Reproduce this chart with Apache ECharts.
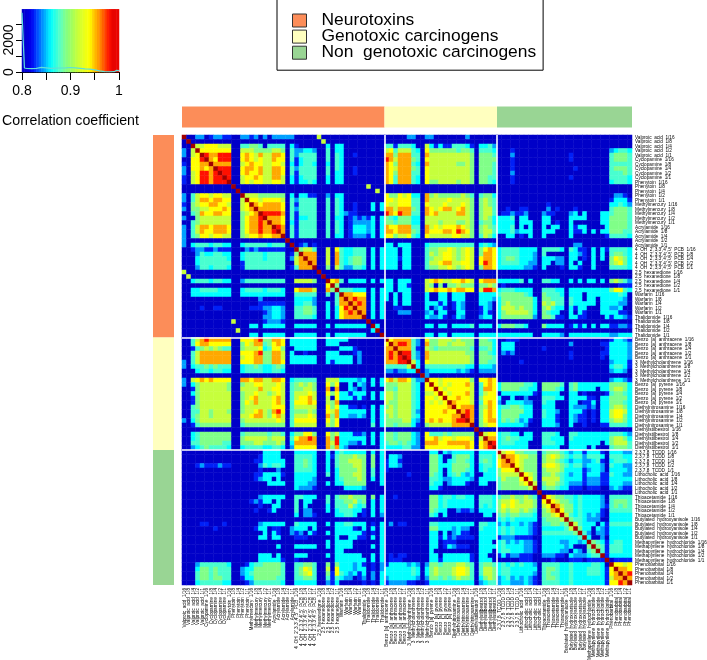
<!DOCTYPE html>
<html><head><meta charset="utf-8">
<style>html,body{margin:0;padding:0;background:#fff}#c{width:707px;height:660px}</style>
<script src="https://cdn.jsdelivr.net/npm/echarts@6/dist/echarts.min.js"></script>
</head><body><div id="c"></div>
<script>
const neuroChemicals = ["Valproic  acid","Cyclopamine","Phenytoin","Methylmercury","Acrylamide","4  OH  2',3,3',4',5'  PCB","2,5  hexanedione","Warfarin","Thalidomide"];
const genoChemicals = ["Benzo  [a]  anthracene","3  Methylcholanthrene","Benzo  [a]  pyrene","Diethylnitrosamine","Diethylstilbestrol"];
const nonChemicals = ["2,3,7,8  TCDD","Lithocholic  acid","Thioacetamide","Butylated  hydroxyanisole","Methapyrilene  hydrochloride","Phenobarbital"];
const doses = ["1/16","1/8","1/4","1/2","1/1"];
const groupNames = ["Neurotoxins","Genotoxic carcinogens","Non  genotoxic carcinogens"];
const groupSizes = [45,25,30];
const groupColors = ["#FC8D59","#FFFFBF","#99D594"];
const levelValues = {"0":0.79,"1":0.825,"2":0.845,"3":0.86,"4":0.875,"5":0.89,"6":0.915,"7":0.94,"8":0.955,"9":0.98,"D":1};
// each row: estimated colour level, from the diagonal cell to the last column (grouped by decade of columns)
const neuroRows = [
"D002201221 1002212020 2222200000 6000000000 0000000000 2200220000 0002",
"D00000000 0000000000 0000000000 0600",
"D6677766 6004455404 4440310000 0030330000 0000044144 4300631311 4443103342",
"D777777 7006665555 6650422332 0040330000 0000067466 6430755555 5455404443 0001000000 0000000000 0000023443",
"D98899 9007876866 8870424444 0040430010 0000088588 8440866666 6666505554 0002000000 0000001000 0000045554",
"D8799 9007876766 8770413444 0040430000 0000098688 8540766666 6666505555 0001000000 0000001000 0000045554",
"D888 8006787766 7760313443 0030430000 0000087588 8430866666 6556505554 0001000000 0000000000 0000044444",
"D99 9007887866 8870424444 0040430010 0000087688 8540766666 6666505554 0001000000 0000000100 0000045554",
"D9 9007877866 8870414444 0040330010 0000087588 8440766666 6666505554 0002000000 0000000000 0000044454",
"D 9006778766 8860313444 0030330000 0000087488 8430766666 6666505544 0001000000 0000001000 0000044443",
"D006767766 7760313343 0030330000 0000087488 8430755666 6566505543 0001000000 0000000000 0000034443",
"D00000000 0000000000 0000000000 0600000000",
"D0000000 0000000000 0000000000 0006000000",
"D666555 5550303311 0020330000 0000075576 7330856555 5565404553 0000000000 0000000000 0000002210",
"D77677 7760424444 0040430000 0000077677 7440866667 6666505654 0000000000 0000000000 0000013331",
"D8788 8870414444 0040430010 0030376677 7440766676 6676505654 0000000000 0100000000 0000033432",
"D888 8870424444 0040430010 0030388688 8540876788 6786505664 0010011000 0201000100 0000045554",
"D99 9980414444 0040432110 0000098798 8440878666 6886505664 0112112000 2110002303 0003345554",
"D8 8870413344 0040330121 2130354355 5330666666 6666505653 3334033000 3300003333 0003355554",
"D 8870314444 0040430122 2230355455 5330666566 6556504553 3333033300 3301003000 0003355554",
"D980414444 0040430133 3230387788 8440867677 7876505654 3334030300 3033003133 0000355554",
"D80414444 0040430133 3230388788 8540877788 7987505664 3334233300 3330003113 0303355544",
"D0414444 0040330122 2130377566 7430766666 7766504653 0033010300 3000003000 0000144443",
"D000000 0000000000 0000000000 0000000000",
"D01201 0000000000 0000033033 3000344444 4444403432 0000000000 0000000220 0000000000",
"D5664 0060743344 4030333303 3000455667 6567605787 3444433330 4444304311 0303144443",
"D888 0060843344 4030333303 3000465677 6567605887 3444433320 4000003321 0303045543",
"D88 0060843455 4030333313 3000456677 6567607887 3455433320 3332203301 0303057653",
"D8 0060843455 4030333303 3000466788 6677607987 3444433220 3302203030 0300056753",
"D 0050642244 3030333303 3000455667 6567605887 3333332210 3000103310 0300044443",
"D000000000 0000000000 0000000000",
"D00000000 0000000000 0000000000",
"D7840333 3030333033 3000678766 7787607888 3333340300 4433003030 3303056542",
"D500000 0000033033 1000650505 5655505565 0100000000 0000000000 0000000111",
"D44433 3030333033 3000678778 7887706998 3444333300 4443303333 3333357743",
"D8877 7030330303 3000300330 3330003333 4555554300 5444303330 3333333430",
"D898 8030330303 3000300330 3330003332 3555555530 5544404330 3303333320",
"D89 8030300303 3000333130 1320003320 3565555530 6564404333 3303333220",
"D8 8030300110 0000302310 1320001320 3666565530 5643303133 0003322300",
"D 8030300022 2000230330 0330001310 3566666530 5433003031 0003333110",
"D030300000 0000322310 1320002330 3555555520 5541103311 0000313321",
"D00000000 0000000000 0000000000",
"D3000000 0000330330 3333403330 3555443000 5333301313 0303311221",
"D000000 0000000000 0000000000",
"D00000 0000330330 3333303333 3333333300 3333203333 3333322333"
];
const genoRows = [
"D7888 8420755666 5655505543 0011100000 0000000000 0000013321",
"D899 8420855665 6665505553 0333000000 0000002000 0001133332",
"D88 8410654555 5555404453 0333000000 1000000000 0000133332",
"D9 9420866666 6665505543 0212000000 0000001000 0001133332",
"D 9420866666 6666505554 0000000000 0000001000 0001033332",
"D630766666 6666505544 0000010000 0000000000 0000023331",
"D30444444 4443303332 0000000000 0000000000 0000034431",
"D0233333 3232102222 0000000000 0000000000 0000023320",
"D200000 0000000000 0000000000",
"D77677 7777507787 0000000000 0000000000 0000023321",
"D7676 7778604787 3555554430 5555404533 3333355553",
"D767 7777604887 3555544330 5554304533 3303356653",
"D76 7778604677 0333333310 3333003301 0000145543",
"D7 7877605777 3003002000 4443303333 1103355553",
"D 8777604787 2033332200 4330003301 1303355543",
"D788805687 3445543300 3330003222 1203356653",
"D89805787 3555553300 4332003331 0103367763",
"D9805787 3555533300 4331003211 0103367753",
"D805788 3545423100 3331003211 0103356653",
"D05677 3333332000 3332003001 0001144443",
"D0000 0000000000 0000000000 0000000000",
"D677 3443303300 4443004433 3333344432",
"D88 3454433300 4433304333 3333356653",
"D9 3444333000 4443303333 3330356664",
"D 3333333000 3333003333 0300045554"
];
const nonRows = [
"D677554440 4555432331 3331033322",
"D88766550 5676543442 4443044433",
"D8765550 5665432332 2341034443",
"D765550 6776543442 3332043322",
"D65550 5666533331 2332033332",
"D7650 5565432331 3331143322",
"D750 6666433331 2221133333",
"D60 5665432221 2221133322",
"D0 4554331110 1110023211",
"D 0000000000 0000000000",
"D765544343 3332044444",
"D76554343 3332045554",
"D8655343 3332145454",
"D755343 3331044444",
"D64343 2321033333",
"D5443 2220033333",
"D643 3303144444",
"D53 3032133333",
"D4 2022133333",
"D 3002033333",
"D543134433",
"D54144433",
"D4144433",
"D133333",
"D01111",
"D7767",
"D887",
"D89",
"D8",
"D"
];
const keyBins = [0.8025,0.8075,0.8125,0.8175,0.8225,0.8275,0.8325,0.8375,0.8425,0.8475,0.8525,0.8575,0.8625,0.8675,0.8725,0.8775,0.8825,0.8875,0.8925,0.8975,0.9025,0.9075,0.9125,0.9175,0.9225,0.9275,0.9325,0.9375,0.9425,0.9475,0.9525,0.9575,0.9625,0.9675,0.9725,0.9775,0.9825,0.9875,0.9875,0.9875];
const histX = [0.8,0.804,0.805,0.81,0.82,0.83,0.84,0.85,0.86,0.87,0.88,0.89,0.9,0.91,0.92,0.93,0.94,0.95,0.96,0.97,0.98,0.99,0.995,1];
const histY = [3700,3700,250,220,210,230,290,260,230,240,250,260,280,260,230,200,180,130,70,20,10,20,100,90];
const xTicksShown = [0.8,0.9,1];
const yTicksShown = [0,2000];
const separators = [45,70];

const FONT = "'Liberation Sans',Helvetica,Arial,sans-serif";
const allChem = [...neuroChemicals,...genoChemicals,...nonChemicals];
const labels = [];
allChem.forEach(c=>doses.forEach(d=>labels.push(c+"  "+d)));
const allRows = [...neuroRows,...genoRows,...nonRows];
const cells = [];
allRows.forEach((s,i)=>{
  const c = s.replace(/ /g,"");
  for(let k=0;k+i<100;k++){
    const v = levelValues[c[k]||"0"];
    cells.push([i+k,i,v]);
    if(k) cells.push([i,i+k,v]);
  }
});
const hide = {show:false};
const chart = echarts.init(document.getElementById("c"),null,{renderer:"canvas"});
chart.setOption({
  animation:false,
  backgroundColor:"#fff",
  textStyle:{fontFamily:FONT},
  title:{text:"Correlation coefficient",left:2,top:114,padding:0,textStyle:{fontFamily:FONT,fontWeight:"normal",fontSize:14.2,color:"#000"}},
  legend:{left:277,top:-1,orient:"vertical",data:groupNames,selectedMode:false,icon:"rect",itemWidth:14,itemHeight:13,itemGap:-0.9,
    padding:[13,7,9,15],borderColor:"#000",borderWidth:1,backgroundColor:"#fff",
    itemStyle:{borderColor:"#333",borderWidth:1},
    textStyle:{fontFamily:FONT,fontSize:17.4,lineHeight:13,color:"#000",padding:[0,0,0,10]}},
  visualMap:{type:"continuous",show:false,min:0.8,max:1,seriesIndex:[0,5],
    inRange:{color:["#0000C8","#0000D8","#0000F0","#0040FF","#0080FF","#00C0FF","#00FFFF","#30FFE0","#60FFC0","#80FF88","#98FF68","#B8FF48","#D4FF30","#ECFF18","#FFFF00","#FFC000","#FF9000","#FF5000","#FF1000","#E00000","#A00000"]}},
  grid:[
    {left:182,top:135,width:450,height:450,outerBoundsMode:"none"},
    {left:182,top:135,width:450,height:450,outerBoundsMode:"none"},
    {left:182,top:106.5,width:450,height:21,outerBoundsMode:"none"},
    {left:153,top:135,width:21,height:450,outerBoundsMode:"none"},
    {left:22,top:9.3,width:97,height:62.7,outerBoundsMode:"none"},
    {left:22,top:24,width:97,height:48,outerBoundsMode:"none"}
  ],
  xAxis:[
    {gridIndex:0,type:"category",data:labels,axisLine:hide,axisTick:hide,splitLine:hide,
      axisLabel:{interval:0,rotate:90,fontSize:4.7,margin:3,color:"#000",fontFamily:FONT}},
    {gridIndex:1,type:"value",min:0,max:100,axisLine:hide,axisTick:hide,axisLabel:hide,splitLine:hide},
    {gridIndex:2,type:"value",min:0,max:100,axisLine:hide,axisTick:hide,axisLabel:hide,splitLine:hide},
    {gridIndex:3,type:"category",data:["g"],axisLine:hide,axisTick:hide,axisLabel:hide},
    {gridIndex:4,type:"category",data:keyBins.map((v,i)=>"b"+i),axisLine:hide,axisTick:hide,axisLabel:hide,splitLine:hide},
    {gridIndex:4,type:"value",min:0.8,max:1,interval:0.05,position:"bottom",splitLine:hide,
      axisLine:{show:true,onZero:false,lineStyle:{color:"#000"}},axisTick:{show:true,length:8,lineStyle:{color:"#000"}},
      axisLabel:{margin:12,fontSize:14,color:"#000",fontFamily:FONT,showMinLabel:true,showMaxLabel:true,hideOverlap:false,
        formatter:v=>{const r=Math.round(v*100)/100;return xTicksShown.includes(r)?String(r):"";}}},
    {gridIndex:5,type:"value",min:0,max:1,axisLine:hide,axisTick:hide,axisLabel:hide,splitLine:hide}
  ],
  yAxis:[
    {gridIndex:0,type:"category",inverse:true,position:"right",data:labels,axisLine:hide,axisTick:hide,splitLine:hide,
      axisLabel:{interval:0,fontSize:4.7,margin:3,color:"#000",fontFamily:FONT}},
    {gridIndex:1,type:"value",inverse:true,min:0,max:100,axisLine:hide,axisTick:hide,axisLabel:hide,splitLine:hide},
    {gridIndex:2,type:"category",data:["g"],axisLine:hide,axisTick:hide,axisLabel:hide},
    {gridIndex:3,type:"value",inverse:true,min:0,max:100,axisLine:hide,axisTick:hide,axisLabel:hide,splitLine:hide},
    {gridIndex:4,type:"category",data:["k"],axisLine:hide,axisTick:hide,axisLabel:hide,splitLine:hide},
    {gridIndex:4,type:"value",min:0,max:3920,axisLine:hide,axisTick:hide,axisLabel:hide,splitLine:hide},
    {gridIndex:5,type:"value",min:0,max:3000,interval:1000,position:"left",splitLine:hide,
      axisLine:{show:true,lineStyle:{color:"#000"}},axisTick:{show:true,length:6,lineStyle:{color:"#000"}},
      axisLabel:{rotate:90,margin:13,fontSize:14,color:"#000",fontFamily:FONT,verticalAlign:"middle",
        formatter:v=>yTicksShown.includes(v)?String(v):""}}
  ],
  series:[
    {type:"heatmap",name:"matrix",xAxisIndex:0,yAxisIndex:0,data:cells,silent:true,progressive:0,itemStyle:{borderWidth:0},emphasis:{disabled:true}},
    {type:"line",xAxisIndex:1,yAxisIndex:1,data:[],silent:true,symbol:"none",
      markLine:{silent:true,symbol:"none",animation:false,label:hide,lineStyle:{color:"#fff",width:1.6,type:"solid"},
        data:[...separators.map(v=>({xAxis:v})),...separators.map(v=>({yAxis:v}))]}},
    ...groupNames.map((n,i)=>({type:"bar",name:n,stack:"top",xAxisIndex:2,yAxisIndex:2,barWidth:"100%",silent:true,data:[groupSizes[i]],itemStyle:{color:groupColors[i]}})),
    {type:"heatmap",name:"key",xAxisIndex:4,yAxisIndex:4,data:keyBins.map((v,i)=>[i,0,v]),silent:true,emphasis:{disabled:true}},
    ...groupNames.map((n,i)=>({type:"bar",name:n,stack:"left",xAxisIndex:3,yAxisIndex:3,barWidth:"100%",silent:true,data:[groupSizes[i]],itemStyle:{color:groupColors[i]}})),
    {type:"line",name:"density",xAxisIndex:5,yAxisIndex:5,data:histX.map((x,i)=>[x,histY[i]]),symbol:"none",silent:true,z:5,
      lineStyle:{color:"#5fe0d8",width:1.2}}
  ]
});
</script></body></html>
